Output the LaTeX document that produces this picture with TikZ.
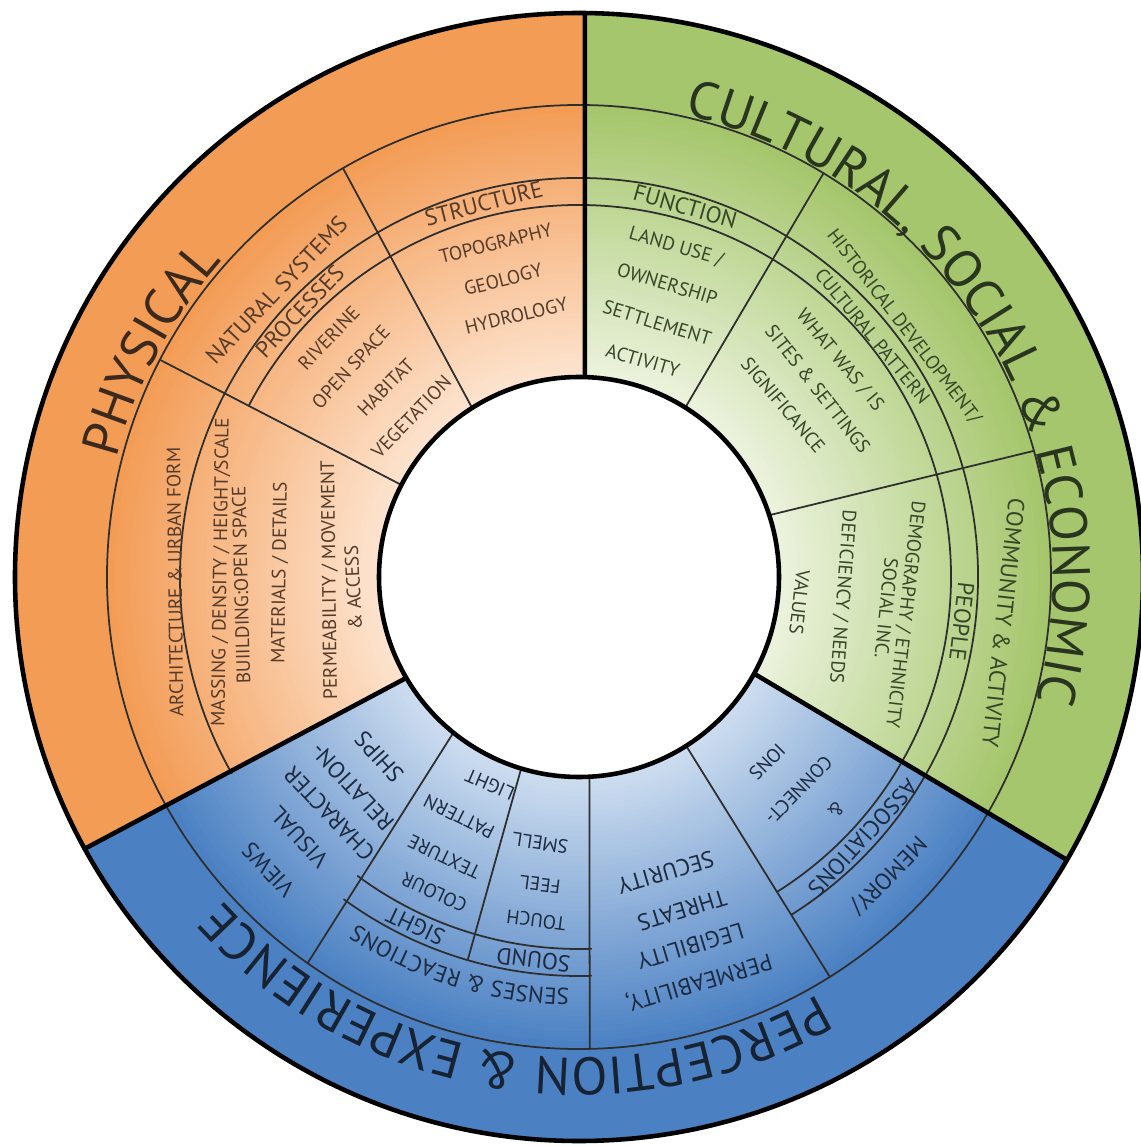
\documentclass[tikz,border=0pt]{standalone}
\usepackage{fontspec}
\setmainfont{PT Sans}
\usetikzlibrary{decorations.text}

\definecolor{orangeout}{HTML}{F39C56}
\definecolor{orangein}{HTML}{FDE6D3}
\definecolor{greenout}{HTML}{A5C66C}
\definecolor{greenin}{HTML}{EEF4E1}
\definecolor{blueout}{HTML}{4B81C3}
\definecolor{bluein}{HTML}{D2E0F1}
\definecolor{otxt}{HTML}{553B2A}
\definecolor{gtxt}{HTML}{374628}
\definecolor{btxt}{HTML}{1D2A40}
\definecolor{ringcol}{HTML}{2E2E2E}

\begin{document}
\begin{tikzpicture}[line cap=round,
  ring/.style={draw=ringcol, line width=0.5pt},
  wall/.style={draw=black, line width=1.3pt},
  itm/.style={inner sep=0pt, font=\fontsize{5.5}{6}\selectfont},
  sub/.style={inner sep=0pt, font=\fontsize{6.6}{7}\selectfont}]
\useasboundingbox (-5.79,-5.69) rectangle (5.62,5.77);
% Sectores (degradado radial a mano)
\begin{scope}
  \clip (88.3:2) -- (89.4:5.64) arc [start angle=89.4, end angle=208.8, radius=5.64] -- (210.3:2) -- cycle;
  \foreach \i in {0,...,72} {
    \pgfmathsetmacro{\rr}{5.64-0.05*\i}
    \pgfmathsetmacro{\pp}{min(100,max(0,100*(\rr-1.95)/2.75))}
    \fill [orangeout!\pp!orangein] (0,0) circle (\rr);
  }
\end{scope}
\begin{scope}
  \clip (210.3:2) -- (208.8:5.64) arc [start angle=208.8, end angle=329.9, radius=5.64] -- (331.1:2) -- cycle;
  \foreach \i in {0,...,72} {
    \pgfmathsetmacro{\rr}{5.64-0.05*\i}
    \pgfmathsetmacro{\pp}{min(100,max(0,100*(\rr-1.95)/2.75))}
    \fill [blueout!\pp!bluein] (0,0) circle (\rr);
  }
\end{scope}
\begin{scope}
  \clip (-28.9:2) -- (-30.1:5.64) arc [start angle=-30.1, end angle=89.4, radius=5.64] -- (88.3:2) -- cycle;
  \foreach \i in {0,...,72} {
    \pgfmathsetmacro{\rr}{5.64-0.05*\i}
    \pgfmathsetmacro{\pp}{min(100,max(0,100*(\rr-1.95)/2.75))}
    \fill [greenout!\pp!greenin] (0,0) circle (\rr);
  }
\end{scope}
% Anillos
\draw [ring] (0,0) circle (4.72);
\draw [ring] (-57.8:3.99) arc [start angle=-57.8, end angle=209.5, radius=3.99];
\draw [ring] (233.9:3.99) arc [start angle=233.9, end angle=271.75, radius=3.99];
\draw [ring] (-57.8:3.72) arc [start angle=-57.8, end angle=152.6, radius=3.72];
\draw [ring] (233.5:3.72) arc [start angle=233.5, end angle=271.9, radius=3.72];
% Divisiones
\draw [ring] (152.6:4.72) -- (152.6:2);
\draw [ring] (120:4.72) -- (122.3:2);
\draw [ring] (58.8:4.72) -- (57.9:2);
\draw [ring] (15.5:4.72) -- (18:2);
\draw [ring] (302.1:4.72) -- (302.4:2);
\draw [ring] (271.3:4.72) -- (273:2);
\draw [ring] (234.9:4.72) -- (231.1:2);
\draw [ring] (253.8:3.99) -- (253.2:2);
\draw [wall] (89.4:5.64) -- (88.3:2);
\draw [wall] (208.8:5.64) -- (210.3:2);
\draw [wall] (-30.1:5.64) -- (-28.9:2);
\fill [white] (0,0) circle (2);
\draw [wall] (0,0) circle (2);
\draw [wall] (0,0) circle (5.64);
% ---
% Titulos
% ---
\path [decorate, decoration={text along path, text align=center,
  text={|\fontsize{15}{17}\selectfont\color{otxt!70!black}|PHYSICAL}}]
  (182:4.77) arc [start angle=182, end angle=122, radius=4.77];
\path [decorate, decoration={text along path, text align=center,
  text={|\fontsize{15}{17}\selectfont\color{gtxt!75!black}|CULTURAL, SOCIAL {\&} ECONOMIC}}]
  (86:4.74) arc [start angle=86, end angle=-24, radius=4.74];
\path [decorate, decoration={text along path, text align=center,
  text={|\fontsize{15}{17}\selectfont\color{btxt!80!black}|PERCEPTION {\&} EXPERIENCE}}]
  (306:4.81) arc [start angle=306, end angle=216, radius=4.81];
% ---
% PHYSICAL
% ---
\node [itm, text=otxt, rotate=90.7] (arch) at (180.7:4.04) {ARCHITECTURE \& URBAN FORM};
\node [itm, text=otxt, rotate=89.2] (massing) at (179.2:3.58) {MASSING / DENSITY / HEIGHT/SCALE};
\node [itm, text=otxt, rotate=91.4] (build) at (181.4:3.38) {BUIILDING:OPEN SPACE};
\node [itm, text=otxt, rotate=89.2] (mater) at (179.2:2.99) {MATERIALS / DETAILS};
\node [itm, text=otxt, rotate=90.7] (permov) at (180.7:2.49) {PERMEABILITY / MOVEMENT};
\node [itm, text=otxt, rotate=92.8] (access) at (182.8:2.26) {\& ACCESS};

\node [sub, text=otxt, rotate=46.5] (natsys) at (136.5:4.17) {NATURAL SYSTEMS};
\node [sub, text=otxt, rotate=46.4] (proc) at (136.4:3.855) {PROCESSES};
\node [itm, text=otxt, rotate=46.3] (river) at (136.3:3.46) {RIVERINE};
\node [itm, text=otxt, rotate=47.4] (open) at (137.4:3.10) {OPEN SPACE};
\node [itm, text=otxt, rotate=45.5] (habit) at (135.5:2.71) {HABITAT};
\node [itm, text=otxt, rotate=46.3] (veget) at (136.3:2.32) {VEGETATION};

\node [sub, text=otxt, rotate=14.3] (struct) at (104.3:3.855) {STRUCTURE};
\node [itm, text=otxt, rotate=14] (topo) at (104:3.44) {TOPOGRAPHY};
\node [itm, text=otxt, rotate=14.3] (geol) at (104.3:3.07) {GEOLOGY};
\node [itm, text=otxt, rotate=13.5] (hydro) at (103.5:2.69) {HYDROLOGY};
% ---
% CULTURAL
% ---
\node [sub, text=gtxt, rotate=-16] (func) at (74:3.855) {FUNCTION};
\node [itm, text=gtxt, rotate=-16.4] (land) at (73.6:3.44) {LAND USE /};
\node [itm, text=gtxt, rotate=-16.8] (owner) at (73.2:3.06) {OWNERSHIP};
\node [itm, text=gtxt, rotate=-17.1] (settle) at (72.9:2.66) {SETTLEMENT};
\node [itm, text=gtxt, rotate=-16.4] (activ) at (73.6:2.26) {ACTIVITY};

\node [itm, text=gtxt, rotate=-52.4] (hist) at (37.6:4.10) {HISTORICAL DEVELOPMENT/};
\node [itm, text=gtxt, rotate=-50.6] (cultpat) at (39.4:3.80) {CULTURAL PATTERN};
\node [itm, text=gtxt, rotate=-50.3] (whatwas) at (39.7:3.39) {WHAT WAS / IS};
\node [itm, text=gtxt, rotate=-51.8] (sites) at (38.2:3.04) {SITES \& SETTINGS};
\node [itm, text=gtxt, rotate=-49.9] (signif) at (40.1:2.67) {SIGNIFICANCE};

\node [sub, text=gtxt, rotate=-96.2] (commun) at (-6.2:4.27) {COMMUNITY \& ACTIVITY};
\node [sub, text=gtxt, rotate=-96.7] (people) at (-6.7:3.855) {PEOPLE};
\node [itm, text=gtxt, rotate=-96.6] (demog) at (-6.6:3.28) {DEMOGRAPHY / ETHNICITY};
\node [itm, text=gtxt, rotate=-95.8] (social) at (-5.8:3.09) {SOCIAL INC.};
\node [itm, text=gtxt, rotate=-94.3] (defic) at (-4.3:2.64) {DEFICIENCY / NEEDS};
\node [itm, text=gtxt, rotate=-96.5] (values) at (-6.5:2.22) {VALUES};
% ---
% PERCEPTION
% ---
\node [sub, text=btxt, rotate=226] (memory) at (316:4.29) {MEMORY/};
\node [sub, text=btxt, rotate=227.4] (assoc) at (317.4:3.855) {ASSOCIATIONS};
\node [itm, text=btxt, rotate=227.8] (amp) at (317.8:3.47) {\&};
\node [itm, text=btxt, rotate=225.9] (connect) at (315.9:3.06) {CONNECT-};
\node [itm, text=btxt, rotate=225.5] (ions) at (315.5:2.64) {IONS};

\node [sub, text=btxt, rotate=196.5] (permeab) at (286.5:4.22) {PERMEABILITY,};
\node [sub, text=btxt, rotate=196.8] (legib) at (286.8:3.86) {LEGIBILITY};
\node [sub, text=btxt, rotate=197.2] (threat) at (287.2:3.49) {THREATS};
\node [sub, text=btxt, rotate=196.4] (secur) at (286.4:3.08) {SECURITY};

\path [decorate, decoration={text along path, text align=center,
  text={|\fontsize{6.6}{7}\selectfont\color{btxt}|SENSES {\&} REACTIONS}}]
  (283:4.12) arc [start angle=283, end angle=223, radius=4.12];
\node [sub, text=btxt, rotate=154.9] (sight) at (244.9:3.855) {SIGHT};
\node [sub, text=btxt, rotate=173.2] (sound) at (263.2:3.855) {SOUND};
\node [itm, text=btxt, rotate=155.3] (colour) at (245.3:3.47) {COLOUR};
\node [itm, text=btxt, rotate=154.3] (texture) at (244.3:3.11) {TEXTURE};
\node [itm, text=btxt, rotate=153.4] (pattern) at (243.4:2.68) {PATTERN};
\node [itm, text=btxt, rotate=156.8] (light) at (246.8:2.26) {LIGHT};
\node [itm, text=btxt, rotate=172.9] (touch) at (262.9:3.46) {TOUCH};
\node [itm, text=btxt, rotate=172.8] (feel) at (262.8:3.10) {FEEL};
\node [itm, text=btxt, rotate=171.7] (smell) at (261.7:2.69) {SMELL};

\node [sub, text=btxt, rotate=133.3] (views) at (223.3:4.27) {VIEWS};
\node [sub, text=btxt, rotate=132.9] (visual) at (222.9:3.82) {VISUAL};
\node [sub, text=btxt, rotate=133.4] (charac) at (223.4:3.44) {CHARACTER};
\node [sub, text=btxt, rotate=132.8] (relat) at (222.8:3.09) {RELATION-};
\node [sub, text=btxt, rotate=132] (ships) at (222:2.69) {SHIPS};
\end{tikzpicture}
\end{document}
